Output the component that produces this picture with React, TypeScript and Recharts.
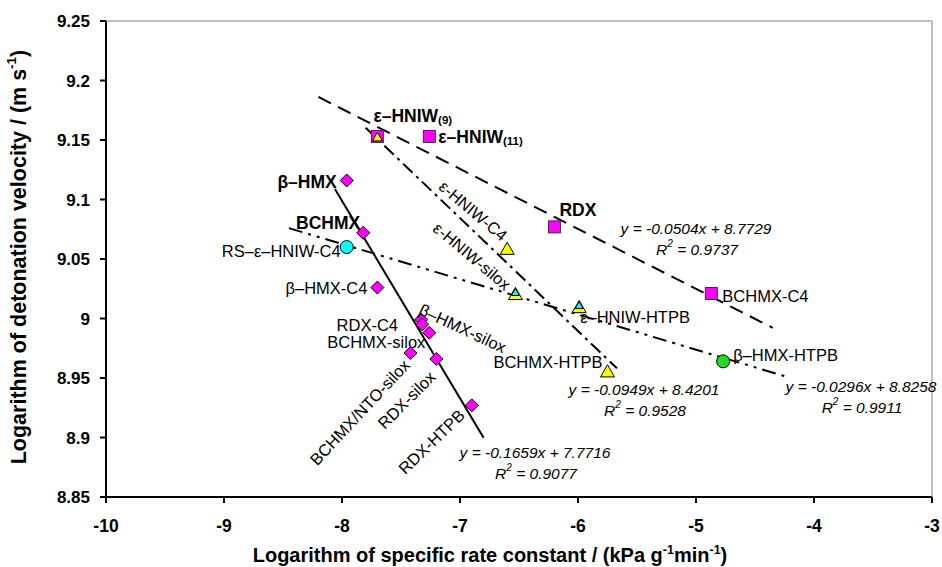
import React from "react";
import { ScatterChart, Scatter, XAxis, YAxis, ReferenceLine } from "recharts";

// axis ticks
const xTicks = [-10, -9, -8, -7, -6, -5, -4, -3];
const yTicks = [8.85, 8.9, 8.95, 9, 9.05, 9.1, 9.15, 9.2, 9.25];

// samples
const squarePoints = [
  { label: "ε–HNIW", sub: "(9)", x: -7.7, y: 9.153 },
  { label: "ε–HNIW", sub: "(11)", x: -7.26, y: 9.153 },
  { label: "RDX", x: -6.2, y: 9.077 },
  { label: "BCHMX-C4", x: -4.87, y: 9.021 },
];
const diamondPoints = [
  { label: "β–HMX", x: -7.96, y: 9.116 },
  { label: "BCHMX", x: -7.82, y: 9.072 },
  { label: "β–HMX-C4", x: -7.7, y: 9.026 },
  { label: "RDX-C4", x: -7.33, y: 8.999 },
  { label: "β–HMX-silox", x: -7.32, y: 8.995 },
  { label: "BCHMX-silox", x: -7.26, y: 8.988 },
  { label: "BCHMX/NTO-silox", x: -7.42, y: 8.971 },
  { label: "RDX-silox", x: -7.2, y: 8.966 },
  { label: "RDX-HTPB", x: -6.9, y: 8.927 },
];
const yellowTriangles = [
  { label: "ε-HNIW-C4", x: -6.6, y: 9.058 },
  { label: "ε-HNIW-silox", x: -6.53, y: 9.02 },
  { label: "ε–HNIW-HTPB", x: -5.99, y: 9.009 },
  { label: "BCHMX-HTPB", x: -5.75, y: 8.955 },
];
// small markers drawn inside other markers
const innerYellow = [{ label: "ε–HNIW(9)", x: -7.7, y: 9.153 }];
const innerCyan = [
  { label: "ε-HNIW-silox", x: -6.53, y: 9.02 },
  { label: "ε–HNIW-HTPB", x: -5.99, y: 9.009 },
];
const cyanCircles = [{ label: "RS–ε–HNIW-C4", x: -7.96, y: 9.06 }];
const greenCircles = [{ label: "β–HMX-HTPB", x: -4.77, y: 8.964 }];

// linear fits shown on the chart
const fits = [
  { slope: -0.0504, intercept: 8.7729, r2: "0.9737", from: -8.2, to: -4.35 },
  { slope: -0.0949, intercept: 8.4201, r2: "0.9528", from: -7.8, to: -5.67 },
  { slope: -0.0296, intercept: 8.8258, r2: "0.9911", from: -8.45, to: -4.25 },
  { slope: -0.1659, intercept: 7.7716, r2: "0.9077", from: -8.06, to: -6.8 },
];

const FONT = "'Liberation Sans', Arial, sans-serif";
const fitDash = ["14 8", "13 5 3 5", "14 6 3 6 3 6", undefined];
const eqPos = [
  { x: 696, y: 228 },
  { x: 644, y: 389 },
  { x: 861, y: 386 },
  { x: 535, y: 452 },
];

// label offsets from the marker centre, in pixels
type Lay = { dx: number; dy: number; anchor: "start" | "end" | "middle"; rot?: number; bold?: boolean };
const labelLayout: Record<string, Lay> = {
  "ε–HNIW(9)": { dx: -4, dy: -20, anchor: "start", bold: true },
  "ε–HNIW(11)": { dx: 9, dy: 1, anchor: "start", bold: true },
  RDX: { dx: 5, dy: -17, anchor: "start", bold: true },
  "BCHMX-C4": { dx: 11, dy: 2, anchor: "start" },
  "β–HMX": { dx: -10, dy: 2, anchor: "end", bold: true },
  BCHMX: { dx: -3, dy: -10, anchor: "end", bold: true },
  "RS–ε–HNIW-C4": { dx: -6, dy: 4, anchor: "end" },
  "β–HMX-C4": { dx: -10, dy: 0, anchor: "end" },
  "RDX-C4": { dx: -23, dy: 5, anchor: "end" },
  "β–HMX-silox": { dx: -2, dy: -16, anchor: "start", rot: 25 },
  "BCHMX-silox": { dx: -4, dy: 9, anchor: "end" },
  "BCHMX/NTO-silox": { dx: -4, dy: 9, anchor: "end", rot: -47 },
  "RDX-silox": { dx: -4, dy: 15, anchor: "end", rot: -45 },
  "RDX-HTPB": { dx: -10, dy: 7, anchor: "end", rot: -44 },
  "ε-HNIW-C4": { dx: -2, dy: -12, anchor: "end", rot: 40 },
  "ε-HNIW-silox": { dx: -7, dy: -8, anchor: "end", rot: 40 },
  "ε–HNIW-HTPB": { dx: 1, dy: 9, anchor: "start" },
  "BCHMX-HTPB": { dx: -5, dy: -10, anchor: "end" },
  "β–HMX-HTPB": { dx: 10, dy: -6, anchor: "start" },
};

const labelled = [...squarePoints, ...diamondPoints, ...yellowTriangles, ...cyanCircles, ...greenCircles];

const Square = (p: any) => (
  <rect x={p.cx - 6} y={p.cy - 6} width={12} height={12} fill="#FF00FF" stroke="#333" strokeWidth={1} />
);
const Diamond = (p: any) => {
  const r = 6.5;
  return (
    <path
      d={`M${p.cx},${p.cy - r}L${p.cx + r},${p.cy}L${p.cx},${p.cy + r}L${p.cx - r},${p.cy}Z`}
      fill="#FF00FF"
      stroke="#000"
      strokeWidth={1}
    />
  );
};
const tri = (cx: number, cy: number, w: number, fill: string) => {
  const h = w * 0.87;
  return (
    <path
      d={`M${cx},${cy - h * 0.6}L${cx + w / 2},${cy + h * 0.4}L${cx - w / 2},${cy + h * 0.4}Z`}
      fill={fill}
      stroke="#000"
      strokeWidth={1}
    />
  );
};
const YellowTri = (p: any) => tri(p.cx, p.cy, 14, "#FFFF00");
const SmallYellowTri = (p: any) => tri(p.cx, p.cy + 1, 10, "#FFFF00");
const SmallCyanTri = (p: any) => tri(p.cx, p.cy - 2, 8, "#00FFFF");
const CyanDot = (p: any) => <circle cx={p.cx} cy={p.cy} r={6.5} fill="#00FFFF" stroke="#000" strokeWidth={1} />;
const GreenDot = (p: any) => <circle cx={p.cx} cy={p.cy} r={6.5} fill="#22DD22" stroke="#000" strokeWidth={1} />;

const PointLabel = (p: any) => {
  const d = p.payload;
  const key = d.label + (d.sub || "");
  const l = labelLayout[key];
  if (!l) return <g />;
  const x = p.cx + l.dx;
  const y = p.cy + l.dy;
  const bold = !!l.bold;
  return (
    <text
      x={x}
      y={y}
      textAnchor={l.anchor}
      dominantBaseline="central"
      transform={l.rot ? `rotate(${l.rot} ${x} ${y})` : undefined}
      fontFamily={FONT}
      fontSize={bold ? 17.5 : 16.5}
      fontWeight={bold ? "bold" : "normal"}
      fill="#000"
    >
      {d.label}
      {d.sub && (
        <tspan fontSize={11.5} dy={4}>
          {d.sub}
        </tspan>
      )}
    </text>
  );
};

const fmtY = (v: number) => String(Number(v.toFixed(2)));

export default function App() {
  return (
    <div style={{ position: "absolute", left: 0, top: 0, width: 942, height: 567, background: "#fff" }}>
      <ScatterChart width={942} height={567} margin={{ top: 21, right: 10, bottom: 0, left: 0 }}>
        <XAxis
          type="number"
          dataKey="x"
          domain={[-10, -3]}
          ticks={xTicks}
          allowDataOverflow
          height={70}
          axisLine={{ stroke: "#000", strokeWidth: 2 }}
          tickLine={{ stroke: "#000", strokeWidth: 2 }}
          tickSize={6}
          tickMargin={17}
          tick={{ fill: "#000", fontSize: 17.5, fontWeight: "bold", fontFamily: FONT }}
        />
        <YAxis
          type="number"
          dataKey="y"
          domain={[8.85, 9.25]}
          ticks={yTicks}
          allowDataOverflow
          width={106}
          axisLine={{ stroke: "#000", strokeWidth: 2 }}
          tickLine={{ stroke: "#000", strokeWidth: 2 }}
          tickSize={6}
          tickMargin={10}
          tickFormatter={fmtY}
          tick={{ fill: "#000", fontSize: 17, fontWeight: "bold", fontFamily: FONT }}
        />
        <ReferenceLine y={9.25} stroke="#aaa" strokeWidth={1.5} />
        <ReferenceLine x={-3} stroke="#aaa" strokeWidth={1.5} />
        <Scatter data={squarePoints} shape={Square} isAnimationActive={false} />
        <Scatter data={diamondPoints} shape={Diamond} isAnimationActive={false} />
        <Scatter data={yellowTriangles} shape={YellowTri} isAnimationActive={false} />
        <Scatter data={innerYellow} shape={SmallYellowTri} isAnimationActive={false} />
        <Scatter data={innerCyan} shape={SmallCyanTri} isAnimationActive={false} />
        <Scatter data={cyanCircles} shape={CyanDot} isAnimationActive={false} />
        <Scatter data={greenCircles} shape={GreenDot} isAnimationActive={false} />
        {fits.map((f, i) => (
          <ReferenceLine
            key={i}
            segment={[
              { x: f.from, y: f.slope * f.from + f.intercept },
              { x: f.to, y: f.slope * f.to + f.intercept },
            ]}
            stroke="#000"
            strokeWidth={2}
            strokeDasharray={fitDash[i]}
          />
        ))}
        <Scatter data={labelled} shape={PointLabel} isAnimationActive={false} />
      </ScatterChart>
      <svg
        width={942}
        height={567}
        style={{ position: "absolute", left: 0, top: 0, pointerEvents: "none" }}
        fontFamily={FONT}
      >
        {fits.map((f, i) => (
          <g key={i} fontStyle="italic" fontSize={15.5} textAnchor="middle" fill="#000">
            <text x={eqPos[i].x} y={eqPos[i].y} dominantBaseline="central">
              {`y = ${f.slope}x + ${f.intercept}`}
            </text>
            <text x={eqPos[i].x + 1} y={eqPos[i].y + 21} dominantBaseline="central">
              R<tspan fontSize={10} dy={-6}>2</tspan>
              <tspan dy={6}>{` = ${f.r2}`}</tspan>
            </text>
          </g>
        ))}
        <text x={490} y={562} textAnchor="middle" fontSize={20} fontWeight="bold">
          Logarithm of specific rate constant / (kPa g<tspan fontSize={12.5} dy={-8}>-1</tspan>
          <tspan dy={8}>min</tspan>
          <tspan fontSize={12.5} dy={-8}>-1</tspan>
          <tspan dy={8}>)</tspan>
        </text>
        <text
          x={19}
          y={257}
          textAnchor="middle"
          fontSize={21.5}
          fontWeight="bold"
          dominantBaseline="central"
          transform="rotate(-90 19 257)"
        >
          Logarithm of detonation velocity / (m s<tspan fontSize={13.5} dy={-8}>-1</tspan>
          <tspan dy={8}>)</tspan>
        </text>
      </svg>
    </div>
  );
}
